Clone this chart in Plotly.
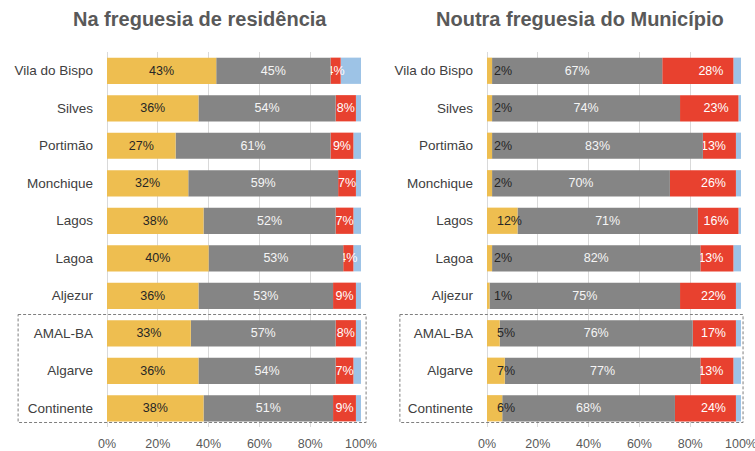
import plotly.graph_objects as go

categories = ["Vila do Bispo", "Silves", "Portimão", "Monchique", "Lagos",
              "Lagoa", "Aljezur", "AMAL-BA", "Algarve", "Continente"]

# Na freguesia de residência
left_yellow = [43, 36, 27, 32, 38, 40, 36, 33, 36, 38]
left_gray = [45, 54, 61, 59, 52, 53, 53, 57, 54, 51]
left_red = [4, 8, 9, 7, 7, 4, 9, 8, 7, 9]
left_blue = [8, 2, 3, 2, 3, 3, 2, 2, 3, 2]

# Noutra freguesia do Município
right_yellow = [2, 2, 2, 2, 12, 2, 1, 5, 7, 6]
right_gray = [67, 74, 83, 70, 71, 82, 75, 76, 77, 68]
right_red = [28, 23, 13, 26, 16, 13, 22, 17, 13, 24]
right_blue = [3, 1, 2, 2, 1, 3, 2, 2, 3, 2]

titles = ["Na freguesia de residência", "Noutra freguesia do Município"]
x_ticks = [0, 20, 40, 60, 80, 100]
x_ticklabels = ["0%", "20%", "40%", "60%", "80%", "100%"]

YELLOW = "#EEBE50"
GRAY = "#858585"
RED = "#E8412F"
BLUE = "#9DC3E6"
FONT = "Liberation Sans"
NB = "\u00a0\u00a0"  # small inner padding for base/end anchored labels

fig = go.Figure()


def add_panel(yellow, gray, red, blue, xa, ya, yellow_anchor, red_anchor):
    base_gray = list(yellow)
    base_red = [a + b for a, b in zip(yellow, gray)]
    base_blue = [a + b + c for a, b, c in zip(yellow, gray, red)]

    def fmt(vals, anchor):
        if anchor == "start":
            return [f"{NB}{v}%" for v in vals]
        if anchor == "end":
            return [f"{v}%{NB}" for v in vals]
        return [f"{v}%" for v in vals]

    # drawn back-to-front so that overflowing labels stay visible
    specs = [
        (blue, base_blue, BLUE, "#FFFFFF", "middle", False),
        (red, base_red, RED, "#FFFFFF", red_anchor, True),
        (gray, base_gray, GRAY, "#F5F5F5", "middle", True),
        (yellow, [0] * len(yellow), YELLOW, "#262626", yellow_anchor, True),
    ]
    for vals, base, col, tcol, anchor, show in specs:
        fig.add_trace(go.Bar(
            y=categories, x=vals, base=base, orientation="h",
            marker=dict(color=col, line=dict(width=0)),
            text=fmt(vals, anchor) if show else None,
            textposition="inside" if show else "none",
            insidetextanchor=anchor,
            constraintext="none",
            textangle=0,
            textfont=dict(family=FONT, size=12.5, color=tcol),
            xaxis=xa, yaxis=ya, showlegend=False, hoverinfo="skip",
            cliponaxis=False,
        ))


add_panel(left_yellow, left_gray, left_red, left_blue, "x", "y", "middle", "middle")
add_panel(right_yellow, right_gray, right_red, right_blue, "x2", "y2", "start", "end")

ydom = [(451 - 427) / 451, (451 - 52) / 451]
xcommon = dict(range=[0, 100], tickvals=x_ticks, ticktext=x_ticklabels,
               showgrid=True, gridcolor="#D9D9D9", gridwidth=1,
               zeroline=True, zerolinecolor="#D9D9D9", zerolinewidth=1,
               showline=False, ticks="", fixedrange=True, automargin=False,
               ticklabeloverflow="allow",
               tickfont=dict(family=FONT, size=12.5, color="#595959"),
               ticklabelstandoff=7)
ycommon = dict(categoryorder="array", categoryarray=categories,
               autorange="reversed", showgrid=False, zeroline=False,
               showline=False, ticks="", automargin=False, fixedrange=True,
               tickfont=dict(family=FONT, size=13.5, color="#404040"),
               ticklabelstandoff=13, domain=ydom)

fig.update_layout(
    width=755, height=451,
    margin=dict(l=0, r=0, t=0, b=0),
    paper_bgcolor="white", plot_bgcolor="white",
    barmode="overlay", bargap=0.3,
    xaxis=dict(domain=[107 / 755, 361 / 755], anchor="y", **xcommon),
    yaxis=dict(anchor="x", **ycommon),
    xaxis2=dict(domain=[487 / 755, 741 / 755], anchor="y2", **xcommon),
    yaxis2=dict(anchor="x2", **ycommon),
)

# titles
for xpos, t in zip([200 / 755, 580 / 755], titles):
    fig.add_annotation(text=f"<b>{t}</b>", x=xpos, y=1 - 19 / 451,
                       xref="paper", yref="paper", showarrow=False,
                       xanchor="center", yanchor="middle",
                       font=dict(family=FONT, size=20, color="#595959"))

# dashed boxes around regional aggregates
for xr, yr, x0, x1 in [("x domain", "y", -0.350, 1.020),
                       ("x2 domain", "y2", -0.343, 1.008)]:
    fig.add_shape(type="rect", xref=xr, yref=yr, x0=x0, x1=x1, y0=6.5, y1=9.38,
                  line=dict(color="#7F7F7F", width=1, dash="3px,2px"),
                  fillcolor="rgba(0,0,0,0)", layer="above")

fig.write_html("out.html", config={"displayModeBar": False},
               post_script="document.body.style.margin='0px';")
